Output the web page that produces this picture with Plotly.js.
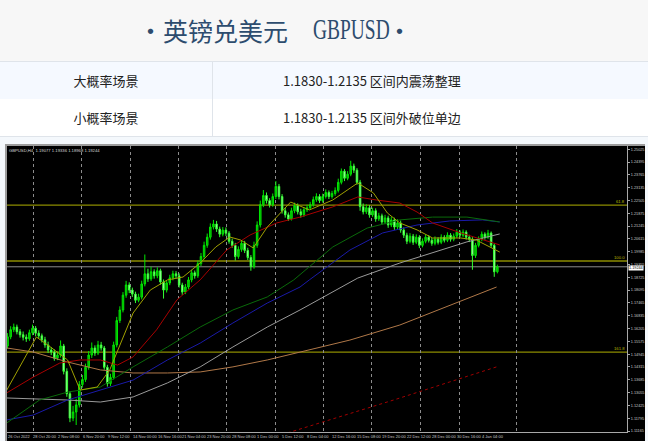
<!DOCTYPE html>
<html><head><meta charset="utf-8">
<script src="https://cdn.plot.ly/plotly-3.0.1.min.js"></script>
<style>
html,body{margin:0;padding:0;}
body{width:648px;height:441px;position:relative;overflow:hidden;background:#f4f8fc;font-family:"Noto Sans CJK SC",sans-serif;}
#hdr{position:absolute;left:0;top:0;width:648px;height:61px;background:#f7f7f7;}
.tt{position:absolute;color:#2d4c6e;white-space:nowrap;line-height:26px;top:17px;}
.row{position:absolute;left:0;width:648px;height:37px;box-sizing:content-box;}
#r1{top:61px;background:#f5f9ff;border-top:1px solid #dfe4ea;border-bottom:1px solid #dfe4ea;}
#r2{top:99px;background:#ffffff;border-bottom:1px solid #dfe4ea;}
.c1{position:absolute;left:0;width:212px;text-align:center;line-height:37px;font-size:13px;color:#222;}
.c2{position:absolute;left:283px;line-height:37px;font-size:13px;color:#222;white-space:nowrap;}
#div{position:absolute;left:212px;top:61px;width:1px;height:76px;background:#dfe4ea;}
#frame{position:absolute;left:5px;top:144px;width:640px;height:297px;box-sizing:border-box;background:#000;border-top:2px solid #9c9c9c;border-left:2px solid #9c9c9c;}
#chart{position:absolute;left:7px;top:146px;width:638px;height:295px;}
</style>
</head><body>
<div id="hdr">
  <span class="tt" style="left:138px;font-size:25px;">•</span>
  <span class="tt" style="left:163px;font-size:25px;">英镑兑美元</span>
  <span class="tt" style="left:313px;font-size:29px;font-family:'Liberation Serif',serif;transform:scaleX(0.67);transform-origin:left center;top:16px;">GBPUSD</span>
  <span class="tt" style="left:387px;font-size:25px;">•</span>
</div>
<div class="row" id="r1"><div class="c1">大概率场景</div><div class="c2">1.1830-1.2135 区间内震荡整理</div></div>
<div class="row" id="r2"><div class="c1">小概率场景</div><div class="c2">1.1830-1.2135 区间外破位单边</div></div>
<div id="div"></div>
<div id="frame"></div>
<div id="chart"></div>
<script>
// ---- candle data (each candle = two H4 bars) ----
const candleOpen = [
1.1535,1.1580,1.1615,1.1628,1.1605,1.1590,1.1578,1.1570,1.1600,1.1622,
1.1598,1.1585,1.1565,1.1540,1.1515,1.1505,1.1475,1.1490,1.1535,1.1410,
1.1300,1.1180,1.1210,1.1245,1.1345,1.1370,1.1430,1.1490,1.1525,1.1500,
1.1540,1.1525,1.1430,1.1350,1.1380,1.1540,1.1660,1.1712,1.1785,1.1835,
1.1810,1.1790,1.1760,1.1775,1.1840,1.1890,1.1865,1.1900,1.1880,1.1905,
1.1850,1.1810,1.1845,1.1870,1.1890,1.1880,1.1835,1.1800,1.1825,1.1860,
1.1895,1.1880,1.1940,1.1975,1.2030,1.2070,1.2120,1.2135,1.2110,1.2085,
1.2105,1.2090,1.2050,1.2030,1.1975,1.2010,1.2040,1.2005,1.1970,1.1925,
1.2030,1.2130,1.2230,1.2275,1.2250,1.2230,1.2270,1.2320,1.2270,1.2200,
1.2180,1.2160,1.2200,1.2225,1.2195,1.2180,1.2205,1.2215,1.2230,1.2255,
1.2270,1.2250,1.2270,1.2290,1.2270,1.2285,1.2300,1.2340,1.2395,1.2360,
1.2380,1.2420,1.2400,1.2340,1.2220,1.2195,1.2215,1.2180,1.2200,1.2160,
1.2175,1.2145,1.2165,1.2130,1.2155,1.2120,1.2140,1.2105,1.2080,1.2050,
1.2075,1.2045,1.2070,1.2030,1.2050,1.2070,1.2055,1.2040,1.2060,1.2045,
1.2070,1.2055,1.2080,1.2060,1.2075,1.2095,1.2080,1.2095,1.2070,1.2060,
1.1980,1.2030,1.2060,1.2085,1.2070,1.2090,1.2030,1.1900];
const candleHigh = [
1.1598,1.1632,1.1645,1.1640,1.1618,1.1606,1.1592,1.1615,1.1640,1.1633,
1.1612,1.1596,1.1580,1.1556,1.1530,1.1518,1.1508,1.1562,1.1545,1.1425,
1.1312,1.1240,1.1275,1.1362,1.1392,1.1448,1.1510,1.1552,1.1538,1.1560,
1.1555,1.1535,1.1442,1.1398,1.1556,1.1678,1.1730,1.1800,1.1855,1.1848,
1.1822,1.1802,1.1792,1.1856,1.1985,1.1915,1.1925,1.1912,1.1922,1.1915,
1.1862,1.1858,1.1885,1.1905,1.1903,1.1892,1.1846,1.1840,1.1874,1.1910,
1.1906,1.1955,1.1992,1.2048,1.2088,1.2138,1.2155,1.2150,1.2122,1.2120,
1.2118,1.2100,1.2063,1.2042,1.2025,1.2056,1.2052,1.2018,1.1982,1.2048,
1.2148,1.2250,1.2302,1.2290,1.2262,1.2285,1.2346,1.2332,1.2282,1.2215,
1.2192,1.2215,1.2240,1.2236,1.2210,1.2218,1.2230,1.2244,1.2270,1.2286,
1.2282,1.2284,1.2305,1.2300,1.2298,1.2315,1.2358,1.2408,1.2405,1.2395,
1.2446,1.2432,1.2410,1.2352,1.2236,1.2232,1.2228,1.2215,1.2212,1.2190,
1.2186,1.2180,1.2176,1.2170,1.2166,1.2158,1.2152,1.2118,1.2092,1.2090,
1.2086,1.2084,1.2080,1.2064,1.2083,1.2080,1.2066,1.2074,1.2070,1.2084,
1.2080,1.2094,1.2090,1.2088,1.2110,1.2104,1.2108,1.2104,1.2082,1.2070,
1.2042,1.2074,1.2098,1.2094,1.2106,1.2098,1.2040,1.1935];
const candleLow = [
1.1522,1.1568,1.1603,1.1592,1.1576,1.1562,1.1555,1.1560,1.1588,1.1582,
1.1572,1.1552,1.1526,1.1500,1.1490,1.1462,1.1465,1.1478,1.1395,1.1285,
1.1160,1.1165,1.1146,1.1232,1.1330,1.1358,1.1418,1.1476,1.1486,1.1490,
1.1512,1.1418,1.1335,1.1338,1.1370,1.1528,1.1648,1.1700,1.1772,1.1795,
1.1776,1.1746,1.1750,1.1764,1.1828,1.1850,1.1855,1.1866,1.1868,1.1836,
1.1768,1.1798,1.1834,1.1858,1.1866,1.1822,1.1786,1.1790,1.1814,1.1848,
1.1866,1.1870,1.1928,1.1962,1.2018,1.2058,1.2108,1.2096,1.2070,1.2074,
1.2076,1.2038,1.2018,1.1955,1.1964,1.1998,1.1992,1.1958,1.1905,1.1915,
1.2018,1.2118,1.2218,1.2236,1.2216,1.2220,1.2258,1.2256,1.2186,1.2166,
1.2150,1.2152,1.2188,1.2182,1.2166,1.2170,1.2194,1.2204,1.2220,1.2244,
1.2238,1.2240,1.2260,1.2258,1.2260,1.2274,1.2290,1.2330,1.2346,1.2350,
1.2370,1.2386,1.2328,1.2200,1.2182,1.2184,1.2166,1.2170,1.2146,1.2150,
1.2132,1.2134,1.2116,1.2120,1.2106,1.2110,1.2092,1.2066,1.2036,1.2040,
1.2032,1.2036,1.2016,1.2020,1.2040,1.2044,1.2028,1.2030,1.2034,1.2036,
1.2044,1.2046,1.2048,1.2050,1.2066,1.2068,1.2070,1.2058,1.2046,1.1910,
1.1968,1.2020,1.2050,1.2058,1.2062,1.2018,1.1875,1.1892];
const candleClose = [
1.1580,1.1615,1.1628,1.1605,1.1590,1.1578,1.1570,1.1600,1.1622,1.1598,
1.1585,1.1565,1.1540,1.1515,1.1505,1.1475,1.1490,1.1535,1.1410,1.1300,
1.1180,1.1210,1.1245,1.1345,1.1370,1.1430,1.1490,1.1525,1.1500,1.1540,
1.1525,1.1430,1.1350,1.1380,1.1540,1.1660,1.1712,1.1785,1.1835,1.1810,
1.1790,1.1760,1.1775,1.1840,1.1890,1.1865,1.1900,1.1880,1.1905,1.1850,
1.1810,1.1845,1.1870,1.1890,1.1880,1.1835,1.1800,1.1825,1.1860,1.1895,
1.1880,1.1940,1.1975,1.2030,1.2070,1.2120,1.2135,1.2110,1.2085,1.2105,
1.2090,1.2050,1.2030,1.1975,1.2010,1.2040,1.2005,1.1970,1.1925,1.2030,
1.2130,1.2230,1.2275,1.2250,1.2230,1.2270,1.2320,1.2270,1.2200,1.2180,
1.2160,1.2200,1.2225,1.2195,1.2180,1.2205,1.2215,1.2230,1.2255,1.2270,
1.2250,1.2270,1.2290,1.2270,1.2285,1.2300,1.2340,1.2395,1.2360,1.2380,
1.2420,1.2400,1.2340,1.2220,1.2195,1.2215,1.2180,1.2200,1.2160,1.2175,
1.2145,1.2165,1.2130,1.2155,1.2120,1.2140,1.2105,1.2080,1.2050,1.2075,
1.2045,1.2070,1.2030,1.2050,1.2070,1.2055,1.2040,1.2060,1.2045,1.2070,
1.2055,1.2080,1.2060,1.2075,1.2095,1.2080,1.2095,1.2070,1.2060,1.1980,
1.2030,1.2060,1.2085,1.2070,1.2090,1.2030,1.1900,1.1924];

// ---- moving averages (bar index, price) ----
const maOliveBar   = [1,20,29,40,48,59,67,82,93,104,114,125,135,144,151,159,168,178,183,195,210,226,236,245,253,264,274,292,302,317];
const maOlivePrice = [1.1318,1.1579,1.1530,1.1466,1.1318,1.1333,1.1417,1.1697,1.1810,1.1860,1.1874,1.1943,1.2022,1.2071,1.2056,1.2017,1.2120,1.2204,1.2243,1.2204,1.2253,1.2337,1.2288,1.2189,1.2140,1.2106,1.2066,1.2066,1.2056,1.1997];
const maRedBar     = [1,18,35,48,61,72,82,97,110,125,142,157,174,189,210,226,238,253,264,274,292,306,317];
const maRedPrice   = [1.1304,1.1382,1.1451,1.1466,1.1466,1.1441,1.1481,1.1614,1.1761,1.1860,1.2007,1.2081,1.2140,1.2169,1.2219,1.2268,1.2253,1.2238,1.2194,1.2140,1.2091,1.2056,1.2032];
const maGreenBar   = [1,22,40,61,82,104,125,146,168,185,210,232,253,274,296,317];
const maGreenPrice = [1.1156,1.1269,1.1308,1.1333,1.1432,1.1530,1.1628,1.1712,1.1776,1.1860,1.2022,1.2115,1.2155,1.2169,1.2169,1.2145];
const maBlueBar    = [1,18,40,61,82,104,125,146,168,189,195,221,242,264,285,306,317];
const maBluePrice  = [1.1171,1.1195,1.1269,1.1318,1.1367,1.1466,1.1549,1.1648,1.1746,1.1825,1.1860,1.2007,1.2091,1.2130,1.2150,1.2155,1.2145];
const maGrayBar    = [1,40,61,82,104,125,146,168,189,226,253,274,296,317];
const maGrayPrice  = [1.1279,1.1269,1.1259,1.1284,1.1353,1.1432,1.1530,1.1628,1.1712,1.1869,1.1943,1.1992,1.2047,1.2086];
const maTanBar     = [1,18,40,61,82,104,125,146,168,189,221,253,285,315];
const maTanPrice   = [1.1525,1.1505,1.1456,1.1417,1.1402,1.1402,1.1407,1.1432,1.1466,1.1505,1.1564,1.1638,1.1736,1.1825];
const maDotBar     = [181,202,249,285,315];
const maDotPrice   = [1.1107,1.1156,1.1269,1.1358,1.1432];

// ---- levels and labels ----
const fiboLevels = [1.2228, 1.1953, 1.1505];
const fiboLabels = ['61.8', '100.0', '161.8'];
const bidPrice = 1.19244;
const priceTicks = [1.11165,1.11795,1.12425,1.13055,1.13685,1.14315,1.14945,1.15575,1.16205,1.16835,1.17465,1.18095,1.18725,1.19355,1.19985,1.20615,1.21245,1.21875,1.22505,1.23135,1.23765,1.24395,1.25025];
const timeLabels = ['26 Oct 2022','28 Oct 20:00','2 Nov 08:00','6 Nov 20:00','9 Nov 12:00','14 Nov 00:00','16 Nov 16:00','21 Nov 04:00','23 Nov 20:00','28 Nov 08:00','1 Dec 00:00','5 Dec 12:00','8 Dec 04:00','12 Dec 16:00','15 Dec 08:00','19 Dec 20:00','22 Dec 12:00','28 Dec 00:00','30 Dec 16:00','4 Jan 04:00'];
const timeLabelBars = [1.3,17,33,49,65,81,97,113,129,145,161,177,193,209,225,241,257,273,289,305];
const weekSeparatorBars = [18,49,80,111,142,173,204,235,266,291,328];
const infoText = 'GBPUSD,H4  1.19077 1.19336 1.18968 1.19244';

const candleBar = candleClose.map((_, j) => 2 * j + 1.5);

function ma(xs, ys, color, dash) {
  return {type:'scatter', mode:'lines', x:xs, y:ys, hoverinfo:'skip',
    line:{color:color, width:1, dash:dash||'solid'}};
}

const traces = [
  ma(maTanBar, maTanPrice, '#b07848'),
  ma(maGrayBar, maGrayPrice, '#9a9a9a'),
  ma(maBlueBar, maBluePrice, '#1a1aa8'),
  ma(maGreenBar, maGreenPrice, '#0a6a0a'),
  ma(maDotBar, maDotPrice, '#a00000', 'dot'),
  ma(maRedBar, maRedPrice, '#a80000'),
  ma(maOliveBar, maOlivePrice, '#a0a000'),
  {type:'candlestick', x:candleBar, open:candleOpen, high:candleHigh, low:candleLow, close:candleClose,
   hoverinfo:'skip', whiskerwidth:0,
   increasing:{line:{color:'#00e600', width:1}, fillcolor:'#00a800'},
   decreasing:{line:{color:'#33ff33', width:1}, fillcolor:'#c8ffc8'}}
];

const shapes = [];
fiboLevels.forEach(v => shapes.push({type:'line', xref:'paper', x0:0, x1:1, yref:'y', y0:v, y1:v,
  line:{color:'#8c8c00', width:1.3}, layer:'below'}));
shapes.push({type:'line', xref:'paper', x0:0, x1:1, yref:'y', y0:bidPrice, y1:bidPrice,
  line:{color:'#8a8a8a', width:1}, layer:'below'});

const ann = [];
timeLabels.forEach((t, k) => ann.push({text:t, x:timeLabelBars[k], xref:'x', y:0, yref:'paper',
  xanchor:'left', yanchor:'top', showarrow:false, yshift:-1, borderpad:0,
  font:{size:4,color:'#c8c8c8',family:'Liberation Sans'}}));
fiboLabels.forEach((t, k) => ann.push({text:t, x:1, xref:'paper', y:fiboLevels[k], yref:'y',
  xanchor:'right', yanchor:'bottom', showarrow:false, xshift:-1, borderpad:0,
  font:{size:4.2,color:'#b8b800',family:'Liberation Sans'}}));
ann.push({text:bidPrice.toFixed(5), x:1, xref:'paper', y:bidPrice, yref:'y', xanchor:'left', yanchor:'top',
  showarrow:false, xshift:1, yshift:2, bgcolor:'#ffffff', borderpad:0,
  font:{size:3.8,color:'#000000',family:'Liberation Sans'}});
ann.push({text:infoText, x:0, xref:'paper', y:1, yref:'paper', xanchor:'left', yanchor:'top',
  showarrow:false, xshift:1, yshift:-1, borderpad:0,
  font:{size:4.2,color:'#d8d8d8',family:'Liberation Sans'}});

const layout = {
  width:638, height:295,
  margin:{l:0, r:18, t:0, b:9, pad:0},
  paper_bgcolor:'#000000', plot_bgcolor:'#000000',
  showlegend:false,
  xaxis:{range:[1.154, 398.6], tickvals:weekSeparatorBars, showticklabels:false, ticks:'',
    showgrid:true, gridcolor:'#8c8c8c', griddash:'dot', gridwidth:1,
    showline:true, linecolor:'#a8a8a8', linewidth:1, zeroline:false,
    rangeslider:{visible:false}, fixedrange:true},
  yaxis:{side:'right', range:[1.11116, 1.25187], tickvals:priceTicks,
    ticktext:priceTicks.map(v => v.toFixed(5)), ticks:'outside', ticklen:2, tickcolor:'#a8a8a8',
    showline:true, linecolor:'#a8a8a8', linewidth:1, showgrid:false, zeroline:false,
    tickfont:{size:3.8, color:'#c8c8c8', family:'Liberation Sans'}, fixedrange:true},
  shapes:shapes,
  annotations:ann
};

Plotly.newPlot('chart', traces, layout, {displayModeBar:false, staticPlot:true});
</script>
</body></html>
